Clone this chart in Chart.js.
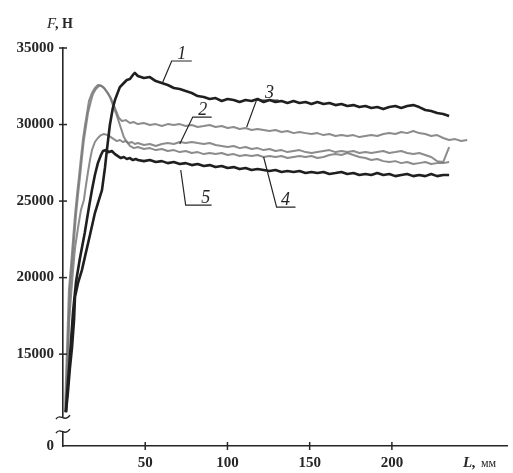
<!DOCTYPE html>
<html>
<head>
<meta charset="utf-8">
<script src="https://cdn.jsdelivr.net/npm/chart.js@4.4.1/dist/chart.umd.min.js"></script>
<style>
  html, body { margin: 0; padding: 0; background: #ffffff; }
  #c { display: block; }
</style>
</head>
<body>
<canvas id="c" width="513" height="473"></canvas>
<script>
// Force F (N) versus stroke L (mm) for five specimens.

// Common L sampling (mm) of the steady part of every curve
const gridL = [45.5, 49.2, 52.8, 56.4, 60.1, 63.7, 67.4, 71.0, 74.6, 78.3, 81.9, 85.6, 89.2, 92.8,
  96.5, 100.1, 103.8, 107.4, 111.0, 114.7, 118.3, 122.0, 125.6, 129.2, 132.9, 136.5, 140.2, 143.8,
  147.5, 151.1, 154.7, 158.4, 162.0, 165.7, 169.3, 172.9, 176.6, 180.2, 183.9, 187.5, 191.1, 194.8,
  198.4, 202.1, 205.7, 209.3, 213.0, 216.6, 220.3, 223.9, 227.5, 231.2, 234.8, 238.5, 242.1, 245.8];

// Curve 1 (dark)
const riseL1 = [1.8, 3.0, 4.2, 5.5, 6.7, 7.3, 9.1, 11.5, 13.3, 16.4, 19.4, 21.8, 23.7, 25.5, 26.7,
  28.5, 30.3, 31.6, 33.4, 34.6, 36.4, 38.8, 40.7, 42.5, 43.7];
const riseF1 = [11210, 12520, 14080, 15460, 17220, 18730, 19640, 20490, 21340, 22780, 24220, 25070,
  25720, 27160, 28330, 29970, 31080, 31600, 32120, 32450, 32650, 32910, 32970, 33240, 33370];
const runF1 = [33170, 33040, 33100, 32840, 32710, 32580, 32390, 32320, 32190, 32060, 31860, 31800,
  31670, 31730, 31540, 31670, 31600, 31470, 31600, 31540, 31670, 31470, 31600, 31470, 31540, 31410,
  31540, 31410, 31470, 31340, 31470, 31340, 31410, 31270, 31340, 31210, 31270, 31140, 31210, 31080,
  31140, 31010, 31140, 31210, 31080, 31210, 31270, 31140, 30950, 30880, 30750, 30690, 30560];

// Curve 2 (grey)
const riseL2 = [1.8, 2.4, 3.0, 3.6, 4.9, 6.1, 7.3, 9.1, 10.9, 12.7, 14.0, 15.2, 16.4, 17.6, 19.4,
  21.2, 23.1, 24.9, 27.3, 29.1, 30.9, 32.8, 34.6, 36.4, 38.2, 40.0, 41.9, 43.7];
const riseF2 = [11210, 12970, 14930, 16900, 18860, 20490, 21930, 23240, 24410, 25070, 26050, 26900,
  27680, 28330, 28860, 29120, 29310, 29380, 29310, 29180, 29050, 28920, 28990, 28860, 28920, 28790,
  28860, 28730];
const runF2 = [28790, 28660, 28730, 28600, 28730, 28790, 28730, 28860, 28790, 28860, 28790, 28730,
  28790, 28660, 28600, 28530, 28600, 28460, 28530, 28400, 28460, 28330, 28400, 28270, 28330, 28200,
  28270, 28330, 28200, 28140, 28200, 28270, 28330, 28200, 28270, 28200, 28270, 28140, 28200, 28140,
  28200, 28270, 28140, 28200, 28270, 28140, 28070, 28140, 28010, 27880, 27610, 27550, 28530];

// Curve 3 (grey)
const riseL3 = [1.2, 1.8, 2.4, 3.0, 3.6, 4.9, 6.1, 7.3, 8.5, 9.7, 10.9, 12.1, 13.3, 14.6, 15.8,
  17.6, 19.4, 21.2, 22.5, 23.7, 25.5, 27.3, 29.1, 30.3, 31.6, 32.8, 34.0, 35.8, 38.2, 40.7, 43.1];
const riseF3 = [11210, 13300, 15260, 17220, 19180, 20820, 22450, 24080, 25390, 26570, 27810, 28990,
  29900, 30750, 31540, 32060, 32390, 32580, 32580, 32520, 32320, 32060, 31730, 31410, 31080, 30750,
  30430, 30230, 30290, 30100, 30160];
const runF3 = [30030, 30100, 29970, 30030, 29900, 30030, 29970, 30030, 29900, 29970, 29840, 29900,
  29970, 29840, 29900, 29770, 29840, 29710, 29770, 29640, 29710, 29640, 29580, 29640, 29510, 29580,
  29440, 29510, 29440, 29380, 29440, 29310, 29380, 29250, 29310, 29250, 29310, 29180, 29250, 29310,
  29250, 29380, 29440, 29380, 29510, 29440, 29580, 29440, 29380, 29250, 29310, 29120, 28990, 29050,
  28920, 28990];

// Curve 4 (grey)
const riseL4 = [1.8, 2.4, 3.0, 3.6, 4.2, 5.5, 6.7, 7.9, 9.1, 10.3, 11.5, 12.7, 14.0, 15.2, 17.0,
  18.2, 20.0, 21.8, 23.1, 24.9, 26.7, 28.5, 29.7, 30.9, 32.2, 33.4, 34.6, 35.8, 37.0, 38.8, 40.7, 43.1];
const riseF4 = [11210, 13300, 15260, 17220, 19180, 20820, 22450, 24080, 25390, 26570, 27810, 28990,
  29900, 30750, 31540, 31990, 32320, 32520, 32520, 32390, 32120, 31800, 31470, 31080, 30750, 30360,
  29970, 29580, 29180, 28860, 28600, 28460];
const runF4 = [28530, 28400, 28460, 28330, 28400, 28270, 28330, 28200, 28270, 28140, 28200, 28070,
  28140, 28070, 28140, 28010, 28070, 27940, 28010, 27940, 28010, 27880, 27940, 27880, 27940, 27810,
  27880, 27940, 27880, 27940, 27810, 27880, 28010, 28070, 28010, 28140, 28010, 27880, 27810, 27680,
  27750, 27610, 27550, 27610, 27480, 27550, 27420, 27480, 27550, 27420, 27480, 27480, 27550];

// Curve 5 (dark)
const riseL5 = [1.8, 2.4, 3.6, 4.9, 6.1, 7.9, 10.3, 13.3, 15.8, 17.6, 19.4, 21.2, 23.1, 24.3, 26.1,
  27.9, 29.7, 31.6, 33.4, 35.2, 37.0, 38.8, 40.7, 42.5, 44.3];
const riseF5 = [11210, 12320, 13950, 15910, 17750, 19710, 21270, 22970, 24610, 25720, 26700, 27480,
  28010, 28270, 28330, 28200, 28270, 28070, 27940, 27810, 27880, 27750, 27810, 27680, 27750];
const runF5 = [27680, 27610, 27680, 27550, 27610, 27480, 27550, 27420, 27480, 27350, 27420, 27290,
  27350, 27220, 27290, 27160, 27220, 27090, 27160, 27030, 27090, 27030, 26960, 27030, 26900, 26960,
  26900, 26960, 26830, 26900, 26830, 26900, 26770, 26830, 26900, 26770, 26830, 26700, 26770, 26700,
  26830, 26700, 26770, 26630, 26700, 26770, 26630, 26700, 26630, 26770, 26630, 26700, 26700];

// Axis ticks
const xTickVals = [50, 100, 150, 200];
const yTickVals = [9000, 15000, 20000, 25000, 30000, 35000];
const yFloorLabel = '0';          // the broken axis starts from zero
const yBreakF = [10880, 9970];    // where the y axis is broken

// Curve numbers with leader lines: text L, underline L from/to, underline F, curve point L, F
const tagText = ['1', '2', '3', '4', '5'];
const tagTextL = [72.2, 85.0, 125.6, 135.3, 86.8];
const tagLineL = [[66.1, 78.3], [78.9, 90.4], [117.7, 131.1], [129.9, 141.4], [74.6, 90.4]];
const tagLineF = [34150, 30490, 31600, 24610, 24740];
const tagPointL = [60.7, 71.0, 111.7, 122.0, 71.6];
const tagPointF = [32780, 28730, 29840, 27880, 27030];

function curve(riseL, riseF, runF) {
  return riseL.map((l, i) => ({ x: l, y: riseF[i] }))
    .concat(runF.map((f, i) => ({ x: gridL[i], y: f })));
}

const DARK = '#1f1f1f';
const GREY = 'rgba(120,120,120,0.85)';
const INK = '#262626';

const decorations = {
  id: 'decorations',
  afterDraw(chart) {
    const { ctx, scales: { x, y } } = chart;
    const ax = x.left, ay = y.bottom;
    ctx.save();
    ctx.strokeStyle = INK;
    ctx.lineWidth = 1.5;
    ctx.lineCap = 'butt';

    // tick marks crossing the axes
    yTickVals.forEach(v => {
      if (v === yTickVals[0]) return;
      const p = y.getPixelForValue(v);
      ctx.beginPath(); ctx.moveTo(ax - 4, p); ctx.lineTo(ax + 4, p); ctx.stroke();
    });
    xTickVals.forEach(v => {
      const p = x.getPixelForValue(v);
      ctx.beginPath(); ctx.moveTo(p, ay - 4); ctx.lineTo(p, ay + 4); ctx.stroke();
    });

    // axis break
    const b1 = y.getPixelForValue(yBreakF[0]);
    const b2 = y.getPixelForValue(yBreakF[1]);
    ctx.fillStyle = '#ffffff';
    ctx.fillRect(ax - 3, b1, 6, b2 - b1);
    ctx.lineWidth = 1.4;
    [b1, b2].forEach(b => {
      ctx.beginPath();
      ctx.moveTo(ax - 7, b + 2);
      ctx.bezierCurveTo(ax - 3, b - 5, ax + 1, b + 6, ax + 7, b - 2);
      ctx.stroke();
    });

    // curve numbers
    ctx.lineWidth = 1.2;
    ctx.fillStyle = INK;
    ctx.font = 'italic 18px "Liberation Serif", serif';
    ctx.textAlign = 'center';
    ctx.textBaseline = 'alphabetic';
    tagText.forEach((t, i) => {
      const u0 = x.getPixelForValue(tagLineL[i][0]);
      const u1 = x.getPixelForValue(tagLineL[i][1]);
      const uy = y.getPixelForValue(tagLineF[i]);
      const px = x.getPixelForValue(tagPointL[i]);
      const py = y.getPixelForValue(tagPointF[i]);
      ctx.beginPath();
      ctx.moveTo(px, py); ctx.lineTo(u0, uy); ctx.lineTo(u1, uy);
      ctx.stroke();
      ctx.fillText(t, x.getPixelForValue(tagTextL[i]), uy - 2);
    });

    // axis titles
    ctx.textAlign = 'left';
    ctx.font = 'italic 15px "Liberation Serif", serif';
    ctx.fillText('F', ax - 16, y.top - 20);
    ctx.font = 'bold 14px "Liberation Serif", serif';
    ctx.fillText(', Н', ax - 8, y.top - 20);

    ctx.font = 'italic bold 15px "Liberation Serif", serif';
    ctx.fillText('L,', x.right - 44, ay + 21);
    ctx.font = '12px "Liberation Serif", serif';
    ctx.fillText('мм', x.right - 26, ay + 21);
    ctx.restore();
  }
};

const tickFont = { family: '"Liberation Serif", serif', size: 15, weight: 'bold' };

new Chart(document.getElementById('c'), {
  type: 'line',
  data: {
    datasets: [
      { label: '1', data: curve(riseL1, riseF1, runF1), borderColor: DARK, borderWidth: 2.6, order: 0 },
      { label: '5', data: curve(riseL5, riseF5, runF5), borderColor: DARK, borderWidth: 2.6, order: 0 },
      { label: '3', data: curve(riseL3, riseF3, runF3), borderColor: GREY, borderWidth: 2, order: 1 },
      { label: '2', data: curve(riseL2, riseF2, runF2), borderColor: GREY, borderWidth: 2, order: 1 },
      { label: '4', data: curve(riseL4, riseF4, runF4), borderColor: GREY, borderWidth: 2, order: 1 }
    ]
  },
  options: {
    responsive: false,
    animation: false,
    parsing: true,
    elements: { point: { radius: 0 }, line: { tension: 0, fill: false, borderJoinStyle: 'round' } },
    layout: { padding: { top: 48, right: 6, left: 0, bottom: 0 } },
    plugins: { legend: { display: false }, tooltip: { enabled: false }, title: { display: false } },
    scales: {
      x: {
        type: 'linear', min: 0, max: 270,
        border: { display: true, color: INK, width: 1.6 },
        grid: { display: false, drawTicks: false },
        ticks: { padding: 8, color: INK, font: tickFont, maxRotation: 0, autoSkip: false,
                 callback: v => String(v) },
        afterBuildTicks: s => { s.ticks = xTickVals.map(v => ({ value: v })); },
        afterFit: s => { s.height = 27; }
      },
      y: {
        type: 'linear', min: 9000, max: 35000,
        border: { display: true, color: INK, width: 1.6 },
        grid: { display: false, drawTicks: false },
        ticks: { padding: 9, color: INK, font: tickFont, autoSkip: false,
                 callback: v => (v === yTickVals[0] ? yFloorLabel : String(v)) },
        afterBuildTicks: s => { s.ticks = yTickVals.map(v => ({ value: v })); },
        afterFit: s => { s.width = 63; }
      }
    }
  },
  plugins: [decorations]
});
</script>
</body>
</html>
